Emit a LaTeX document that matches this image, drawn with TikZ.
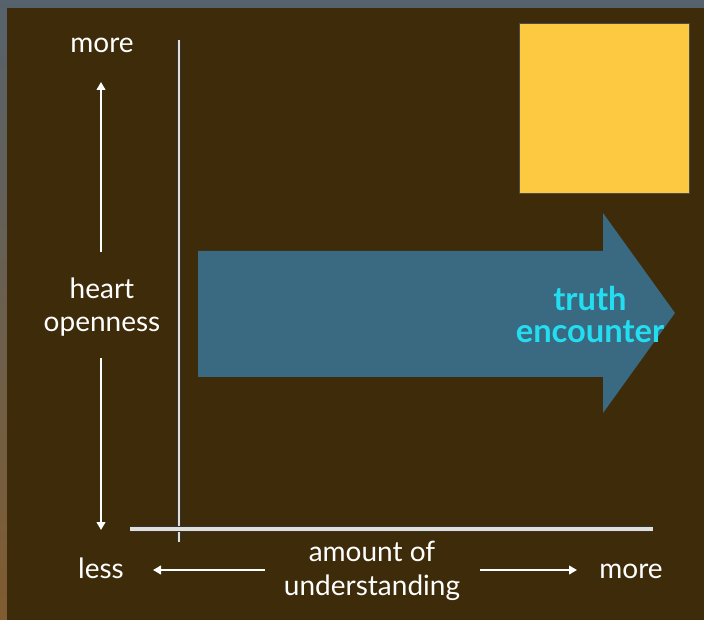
\documentclass[tikz,border=0pt]{standalone}
\usepackage{fontspec}
\setmainfont{Lato}
\usetikzlibrary{arrows.meta}
\definecolor{panelbrown}{RGB}{62,43,10}
\definecolor{framegray}{RGB}{86,98,108}
\definecolor{sunsetbrown}{RGB}{128,92,48}
\definecolor{axisgray}{RGB}{226,223,216}
\definecolor{pathblue}{RGB}{58,105,130}
\definecolor{truthcyan}{RGB}{35,222,240}
\definecolor{boxyellow}{RGB}{253,201,64}
\tikzstyle{label_axis} = [text=white, font=\fontsize{21}{25}\selectfont, align=center, inner sep=0pt]
\tikzstyle{label_truth} = [text=truthcyan, font=\bfseries\fontsize{24.5}{24}\selectfont, align=center, inner sep=0pt]
\tikzstyle{arrow_axis} = [draw=white, line width=1.7pt, -{Triangle[length=6pt,width=6.5pt]}]
\tikzstyle{line_axis} = [draw=black!80, double=axisgray, line width=0.5pt]
\begin{document}
\begin{tikzpicture}[x=0.75pt, y=-0.75pt]
	\useasboundingbox (0,0) rectangle (704,620);
	% frame and panel
	\shade[top color=framegray, bottom color=sunsetbrown] (0,0) rectangle (704,620);
	\fill[panelbrown] (7,8) rectangle (704,620);
	\filldraw[fill=boxyellow, draw=black!70, line width=0.6pt] (519,23) rectangle (689,193);
	% big arrow
	\fill[pathblue] (198,251) -- (603,251) -- (603,213) -- (675,313) -- (603,413) -- (603,377) -- (198,377) -- cycle;

	\node (MY) at (102,45) [label_axis] {more};
	\node (H) at (102,307) [label_axis] {heart\\openness};
	\node (LX) at (101,568) [label_axis] {less};
	\node (U) at (372,571) [label_axis] {amount of\\understanding};
	\node (MX) at (631,571) [label_axis] {more};
	\node (T) at (590,314) [label_truth] {truth\\encounter};

	\coordinate (VA) at (179,40);
	\coordinate (VB) at (179,542);
	\coordinate (HA) at (130,529);
	\coordinate (HB) at (653,529);
	\coordinate (UA) at (101,252);
	\coordinate (UB) at (101,82);
	\coordinate (DA) at (101,358);
	\coordinate (DB) at (101,530);
	\coordinate (LA) at (265,570);
	\coordinate (LB) at (153,570);
	\coordinate (RA) at (480,570);
	\coordinate (RB) at (577,570);

	\draw[line_axis, double distance=2pt] (VA)--(VB);
	\draw[line_axis, double distance=3.2pt] (HA)--(HB);
	\draw[arrow_axis] (UA)--(UB);
	\draw[arrow_axis] (DA)--(DB);
	\draw[arrow_axis] (LA)--(LB);
	\draw[arrow_axis] (RA)--(RB);
\end{tikzpicture}
\end{document}
